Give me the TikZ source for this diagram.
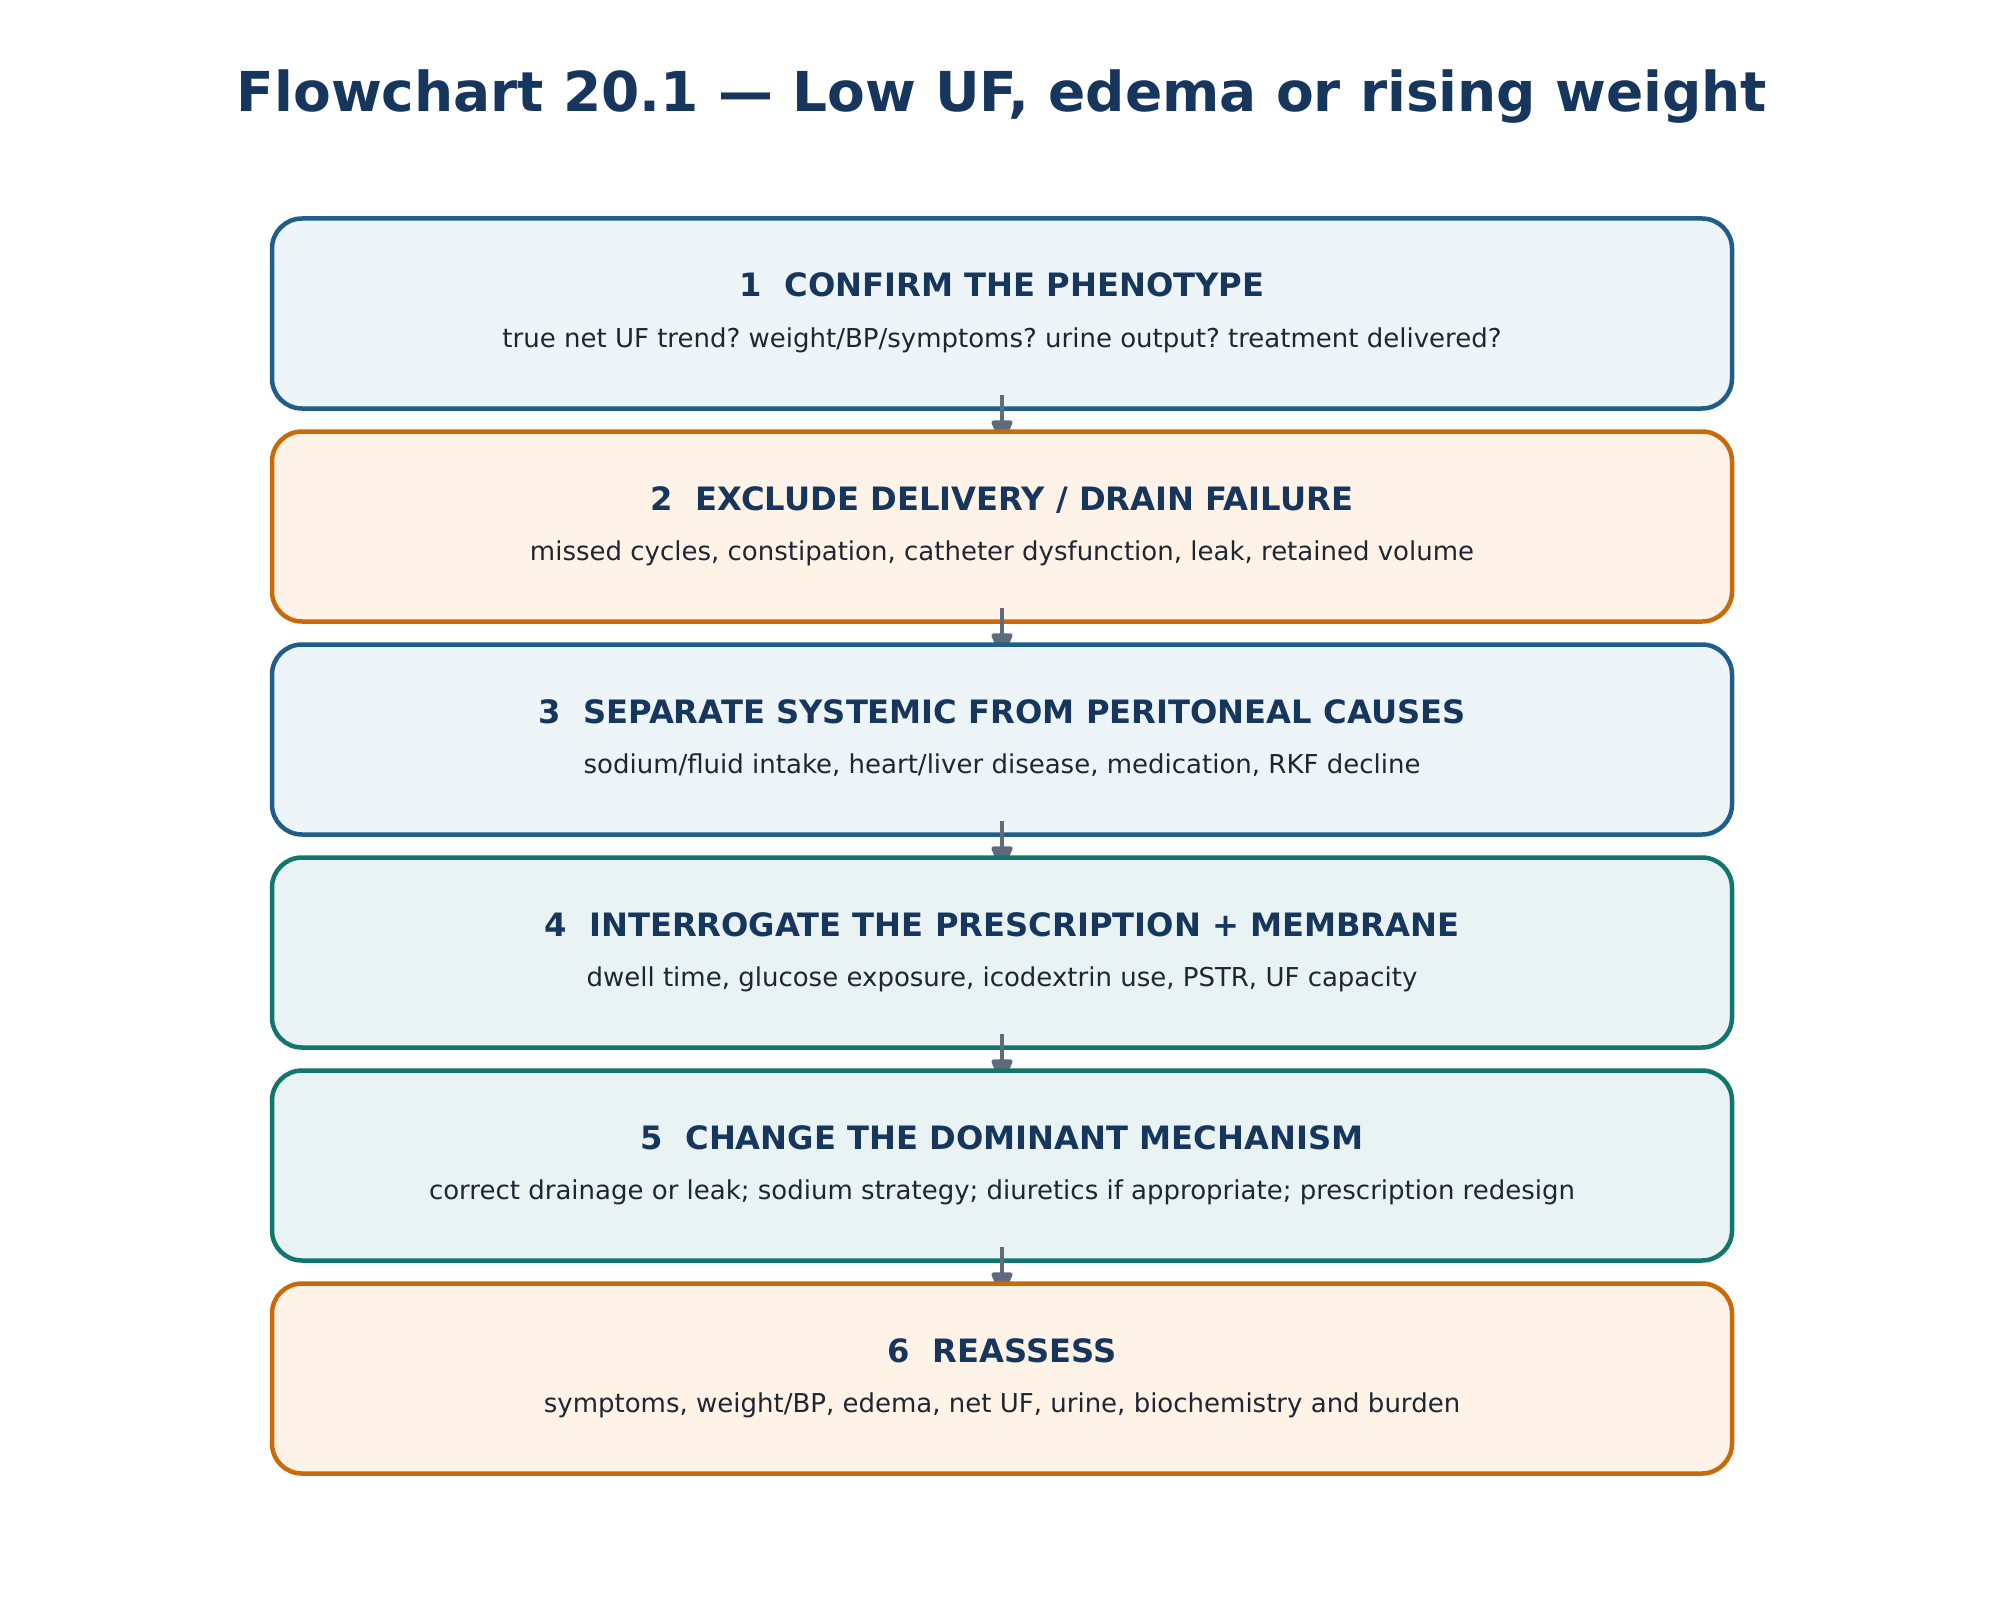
\documentclass[tikz,border=0pt]{standalone}
\usepackage{fontspec}
\setmainfont{DejaVu Sans}
\usetikzlibrary{arrows.meta}
\definecolor{bstroke}{HTML}{1F5E8A}
\definecolor{bfill}{HTML}{EDF5F8}
\definecolor{ostroke}{HTML}{C8690A}
\definecolor{ofill}{HTML}{FEF3E6}
\definecolor{tstroke}{HTML}{11766C}
\definecolor{tfill}{HTML}{E9F3F3}
\definecolor{navy}{HTML}{17365E}
\definecolor{bodytext}{HTML}{1E2632}
\definecolor{arrowc}{HTML}{5F6B7D}
\tikzset{
  box/.style={draw, line width=4.5pt, rounded corners=30pt, minimum width=1460pt, minimum height=190pt, inner sep=0pt},
  bluebox/.style={box, draw=bstroke, fill=bfill},
  orangebox/.style={box, draw=ostroke, fill=ofill},
  tealbox/.style={box, draw=tstroke, fill=tfill},
  head/.style={anchor=base, inner sep=0pt, text=navy, font=\fontsize{32.2}{38}\selectfont\bfseries},
  sub/.style={anchor=base, inner sep=0pt, text=bodytext, font=\fontsize{26}{32}\selectfont\frenchspacing},
  flow/.style={draw=arrowc, line width=4pt, -{Triangle[width=22pt,length=28pt,round]}, shorten <=-16pt, shorten >=0pt}
}
\begin{document}
\begin{tikzpicture}[x=1pt,y=-1pt]
\useasboundingbox (0,0) rectangle (2004,1602);
\node[anchor=base, inner sep=0pt, text=navy, font=\fontsize{55}{66}\selectfont\bfseries] (title) at (1002,112) {Flowchart 20.1 — Low UF, edema or rising weight};

% arrow ends, hidden under the following box
\coordinate (t2) at (1002,445);
\coordinate (t3) at (1002,658);
\coordinate (t4) at (1002,871);
\coordinate (t5) at (1002,1084);
\coordinate (t6) at (1002,1297);

\node[bluebox]   (b1) at (1002,313.5) {};
\draw[flow] (b1.south) -- (t2);
\node[orangebox] (b2) at (1002,526.5) {};
\draw[flow] (b2.south) -- (t3);
\node[bluebox]   (b3) at (1002,739.5) {};
\draw[flow] (b3.south) -- (t4);
\node[tealbox]   (b4) at (1002,952.5) {};
\draw[flow] (b4.south) -- (t5);
\node[tealbox]   (b5) at (1002,1165.5) {};
\draw[flow] (b5.south) -- (t6);
\node[orangebox] (b6) at (1002,1378.5) {};

\node[head] (h1) at (1002,297) {1\ \ CONFIRM THE PHENOTYPE};
\node[sub]  (s1) at (1002,347.5) {true net UF trend? weight/BP/symptoms? urine output? treatment delivered?};
\node[head] (h2) at (1002,510) {2\ \ EXCLUDE DELIVERY / DRAIN FAILURE};
\node[sub]  (s2) at (1002,560.5) {missed cycles, constipation, catheter dysfunction, leak, retained volume};
\node[head] (h3) at (1002,723) {3\ \ SEPARATE SYSTEMIC FROM PERITONEAL CAUSES};
\node[sub]  (s3) at (1002,773.5) {sodium/fluid intake, heart/liver disease, medication, RKF decline};
\node[head] (h4) at (1002,936) {4\ \ INTERROGATE THE PRESCRIPTION + MEMBRANE};
\node[sub]  (s4) at (1002,986.5) {dwell time, glucose exposure, icodextrin use, PSTR, UF capacity};
\node[head] (h5) at (1002,1149) {5\ \ CHANGE THE DOMINANT MECHANISM};
\node[sub]  (s5) at (1002,1199.5) {correct drainage or leak; sodium strategy; diuretics if appropriate; prescription redesign};
\node[head] (h6) at (1002,1362) {6\ \ REASSESS};
\node[sub]  (s6) at (1002,1412.5) {symptoms, weight/BP, edema, net UF, urine, biochemistry and burden};
\end{tikzpicture}
\end{document}
